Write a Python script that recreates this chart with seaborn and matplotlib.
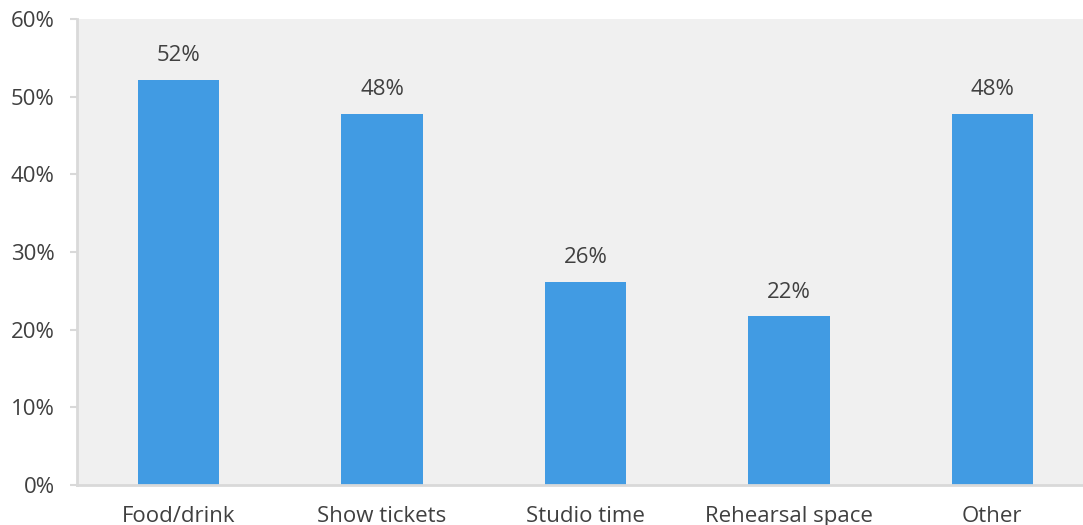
import numpy as np
import pandas as pd
import matplotlib
matplotlib.use("Agg")
import matplotlib.pyplot as plt
import seaborn as sns

# values (percent)
categories = ["Food/drink", "Show tickets", "Studio time", "Rehearsal space", "Other"]
values = [52.2, 47.8, 26.1, 21.7, 47.8]
y_ticks = [0, 10, 20, 30, 40, 50, 60]

df = pd.DataFrame({"category": categories, "value": values})

sns.set_style("white")
plt.rcParams["font.family"] = ["Open Sans", "DejaVu Sans"]

text_color = "#404040"
axis_color = "#d9d9d9"
bar_color = "#419be3"
fs = 16

fig = plt.figure(figsize=(10.83, 5.25), dpi=100)
ax = fig.add_axes([0.0711, 0.0762, 0.939, 0.8876])
ax.set_facecolor("#f0f0f0")

sns.barplot(data=df, x="category", y="value", color=bar_color, width=0.4,
            saturation=1, linewidth=0, ax=ax)

# value labels above bars
for i, v in enumerate(values):
    ax.annotate("{:.0f}%".format(v), (i, v), xytext=(0, 17.5), textcoords="offset points",
                ha="center", va="center", fontsize=fs, color=text_color)

ax.set_xlim(-0.5, len(categories) - 0.5)
ax.set_ylim(0, 60)
ax.set_yticks(y_ticks)
ax.set_yticklabels(["{}%".format(t) for t in y_ticks])
ax.set_xlabel("")
ax.set_ylabel("")

# tick marks sit between categories
ax.set_xticks(np.arange(-0.5, len(categories), 1.0), minor=True)
ax.tick_params(axis="x", which="major", length=0, pad=15, labelsize=fs, labelcolor=text_color)
ax.tick_params(axis="x", which="minor", length=5, width=1.5, color=axis_color, direction="out")
ax.tick_params(axis="y", length=5, width=1.5, color=axis_color, pad=11,
               labelsize=fs, labelcolor=text_color, direction="out", left=True)

for side in ["top", "right"]:
    ax.spines[side].set_visible(False)
for side in ["left", "bottom"]:
    ax.spines[side].set_color(axis_color)
    ax.spines[side].set_linewidth(2)

fig.savefig("out.png", dpi=100)
